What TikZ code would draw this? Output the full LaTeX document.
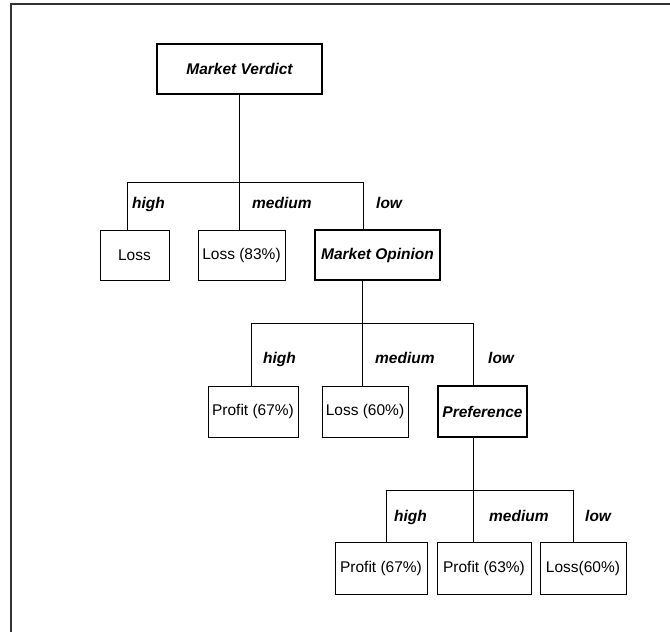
\documentclass[tikz,border=0pt]{standalone}
\usepackage{fontspec}
\setmainfont{Liberation Sans}
\usetikzlibrary{calc}
\newcommand{\boxFont}{\fontsize{15.5}{18}\selectfont}
\newcommand{\drawDrop}[2]{
	\draw[link] (#1) -- (#1 |- #2.north);
}
\newcommand{\drawBar}[3]{
	\draw[link] (#1.south -| #2) -- (#2);
	\draw[link] (#3_H) -- (#3_L);
}

\begin{document}
\begin{tikzpicture}[x=1pt,y=-1pt,
		link/.style={line width=1pt},
		decision/.style={draw, line width=2pt, inner sep=0pt, font=\boxFont\bfseries\itshape},
		leaf/.style={draw, line width=1pt, inner sep=0pt, font=\boxFont},
		branch/.style={anchor=base west, inner sep=0pt, font=\boxFont\bfseries\itshape}]
		\clip (0,0) rectangle (670,632);
		\draw[line width=1.6pt, black!80] (11,4) rectangle (690,660);

		\node[decision, minimum width=165pt, minimum height=50pt] (MV) at (239.5,69) {Market Verdict};

		\node[leaf, minimum width=69pt, minimum height=50pt] (N1_A) at (134.5,255) {Loss};
		\node[leaf, minimum width=87pt, minimum height=50pt] (N1_B) at (241.5,255) {Loss (83\%)};
		\node[decision, minimum width=125pt, minimum height=50pt] (MO) at (377.5,255) {Market Opinion};

		\node[leaf, minimum width=90pt, minimum height=51pt] (N2_A) at (253,411.5) {Profit (67\%)};
		\node[leaf, minimum width=86pt, minimum height=51pt] (N2_B) at (365,411.5) {Loss (60\%)};
		\node[decision, minimum width=89pt, minimum height=51pt] (PR) at (482.5,411.5) {Preference};

		\node[leaf, minimum width=92pt, minimum height=52pt] (N3_A) at (381,568) {Profit (67\%)};
		\node[leaf, minimum width=94pt, minimum height=52pt] (N3_B) at (484,568) {Profit (63\%)};
		\node[leaf, minimum width=86pt, minimum height=52pt] (N3_C) at (583,568) {Loss(60\%)};

		\coordinate (J1_H) at (127,182);
		\coordinate (J1_M) at (239,182);
		\coordinate (J1_L) at (363,182);
		\coordinate (J2_H) at (251,323);
		\coordinate (J2_M) at (362,323);
		\coordinate (J2_L) at (473,323);
		\coordinate (J3_H) at (386,490);
		\coordinate (J3_M) at (473,490);
		\coordinate (J3_L) at (573,490);

		\drawBar{MV}{J1_M}{J1}
		\drawDrop{J1_H}{N1_A}
		\drawDrop{J1_M}{N1_B}
		\drawDrop{J1_L}{MO}

		\drawBar{MO}{J2_M}{J2}
		\drawDrop{J2_H}{N2_A}
		\drawDrop{J2_M}{N2_B}
		\drawDrop{J2_L}{PR}

		\drawBar{PR}{J3_M}{J3}
		\drawDrop{J3_H}{N3_A}
		\drawDrop{J3_M}{N3_B}
		\drawDrop{J3_L}{N3_C}

		\node[branch] (B1_H) at (132,208) {high};
		\node[branch] (B1_M) at (252,208) {medium};
		\node[branch] (B1_L) at (376,208) {low};
		\node[branch] (B2_H) at (263,363) {high};
		\node[branch] (B2_M) at (375,363) {medium};
		\node[branch] (B2_L) at (488,363) {low};
		\node[branch] (B3_H) at (394,521) {high};
		\node[branch] (B3_M) at (489,521) {medium};
		\node[branch] (B3_L) at (585,521) {low};

	\end{tikzpicture}
\end{document}
